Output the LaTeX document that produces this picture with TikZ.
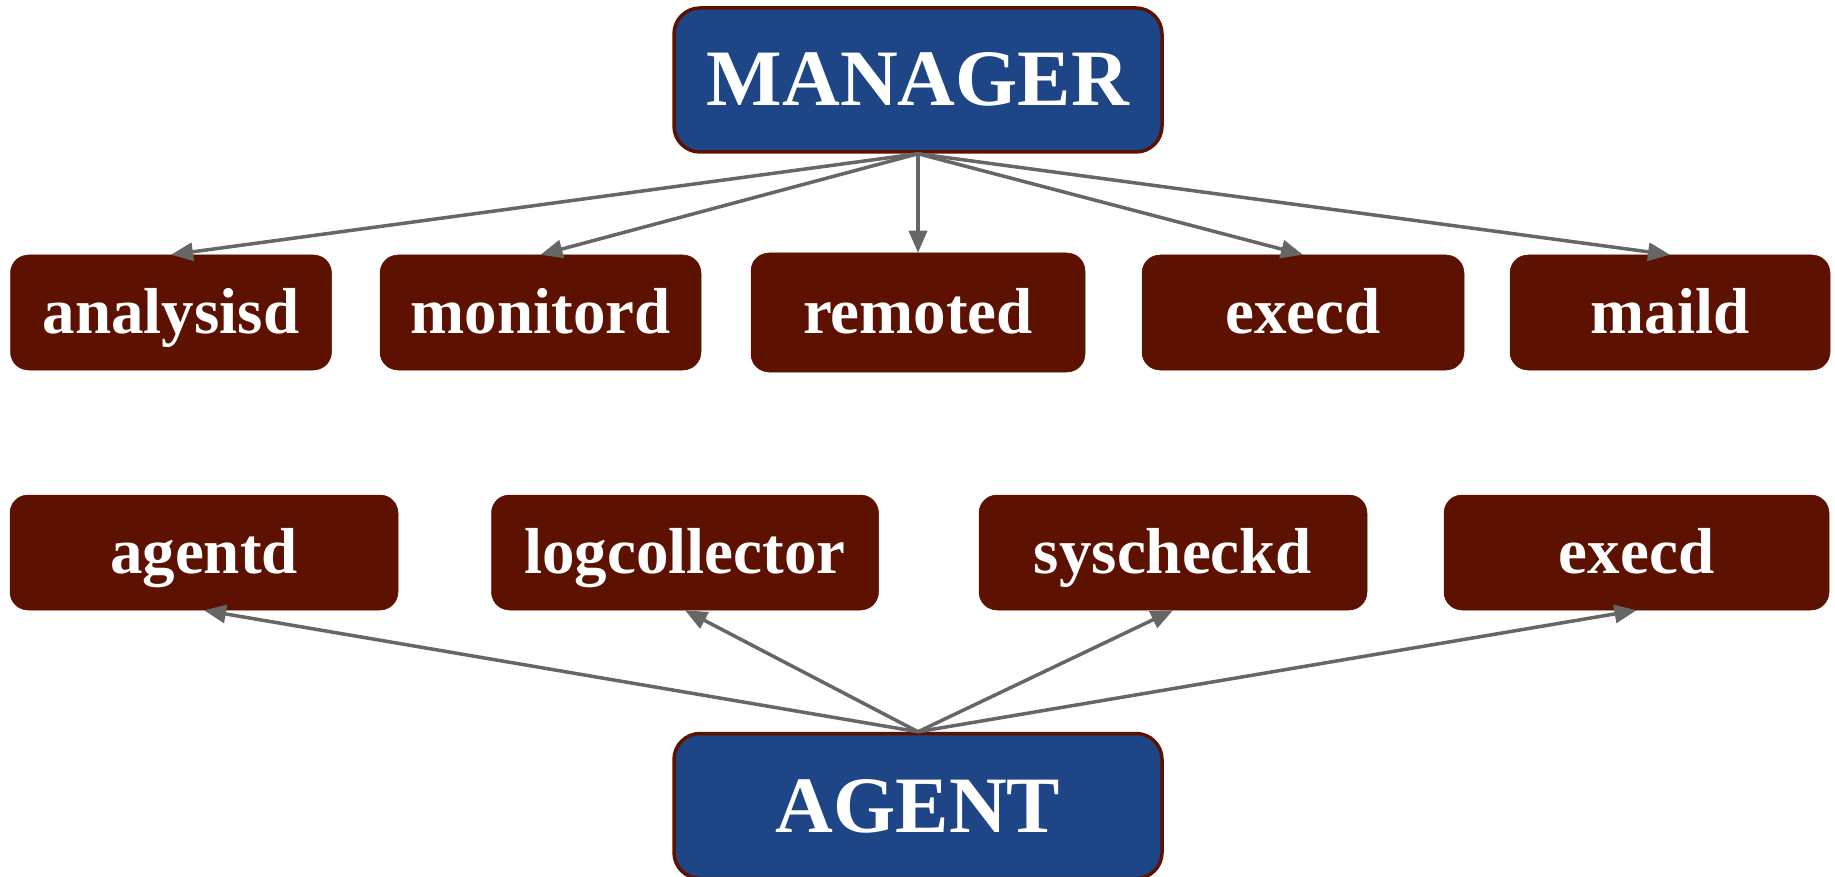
\documentclass[tikz,border=0pt]{standalone}
\usepackage{fontspec}
\setmainfont{Liberation Serif}
\usetikzlibrary{arrows.meta}
\definecolor{mgrblue}{HTML}{1E4686}
\definecolor{darkred}{HTML}{5C1101}
\definecolor{arrgray}{HTML}{666666}
\tikzset{
  mainbox/.style={draw=darkred, line width=3.5pt, fill=mgrblue, rounded corners=26pt,
    text=white, font=\bfseries\fontsize{80}{96}\selectfont,
    text height=68pt, text depth=16pt, inner sep=0pt},
  procbox/.style={draw=darkred, line width=0.5pt, fill=darkred, rounded corners=18pt,
    text=white, font=\bfseries\fontsize{65}{78}\selectfont,
    text height=55pt, text depth=14pt, inner sep=0pt},
  link/.style={draw=arrgray, line width=3.5pt, -{Triangle[length=22pt,width=18pt]}}
}
\begin{document}
\begin{tikzpicture}[x=1pt,y=-1pt]
\useasboundingbox (0,0) rectangle (1835,877);
\node[mainbox, minimum width=488pt, minimum height=144pt] (manager) at (918,80) {MANAGER};
\node[procbox, minimum width=321pt, minimum height=115pt] (analysisd) at (171,312.5) {analysisd};
\node[procbox, minimum width=321pt, minimum height=115pt] (monitord) at (540.5,312.5) {monitord};
\node[procbox, minimum width=334pt, minimum height=119pt] (remoted) at (918,312.5) {remoted};
\node[procbox, minimum width=322pt, minimum height=115pt] (execd) at (1303,312.5) {execd};
\node[procbox, minimum width=320pt, minimum height=115pt] (maild) at (1670,312.5) {maild};
\node[procbox, minimum width=388pt, minimum height=115pt] (agentd) at (204,552.5) {agentd};
\node[procbox, minimum width=387pt, minimum height=115pt] (logcollector) at (685,552.5) {logcollector};
\node[procbox, minimum width=388pt, minimum height=115pt] (syscheckd) at (1173,552.5) {syscheckd};
\node[procbox, minimum width=385pt, minimum height=115pt] (execdb) at (1636.5,552.5) {execd};
\node[mainbox, minimum width=488pt, minimum height=145pt] (agent) at (918,806) {AGENT};
\foreach \t in {analysisd,monitord,remoted,execd,maild}
  \draw[link] (manager.south) -- (\t.north);
\foreach \t in {agentd,logcollector,syscheckd,execdb}
  \draw[link] (agent.north) -- (\t.south);
\end{tikzpicture}
\end{document}
